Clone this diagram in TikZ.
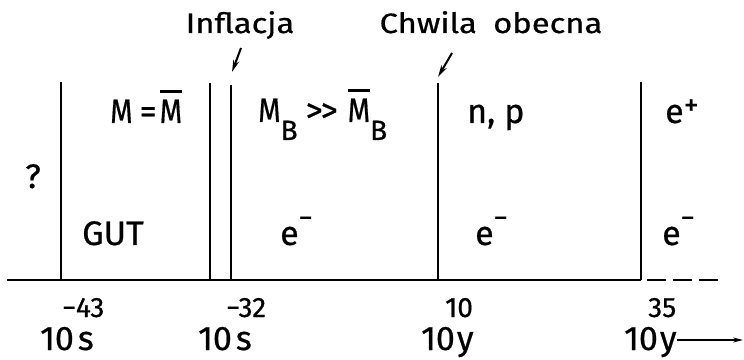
\documentclass[tikz,border=0pt]{standalone}
\usepackage{fontspec}
\setmainfont{Fira Sans}[FakeBold=0.6]
\usetikzlibrary{arrows.meta}
\newcommand\fs[1]{\fontsize{#1}{#1}\selectfont}
\newcommand\barM[1]{\setbox0\hbox{#1}\rlap{\hbox to\wd0{\hss\raisebox{\dimexpr\ht0+0.3\ht0\relax}{\rule{0.95\wd0}{0.07em}}\hss}}\box0}
\newcommand\emin{\raisebox{18pt}{\fs{28}−}}
\begin{document}
\begin{tikzpicture}[x=1pt,y=1pt,
  ln/.style={line width=1.7pt},
  ax/.style={line width=2.3pt},
  lbl/.style={anchor=base west, inner sep=0pt, font=\fs{34}},
  toplbl/.style={anchor=base, inner sep=0pt, font=\fs{28}},
  sup/.style={anchor=base west, inner sep=0pt, font=\fs{28}},
  pointer/.style={line width=2pt, -{Stealth[length=12pt,width=6pt]}}]
\useasboundingbox (0,0) rectangle (744,359);
% axis and boundaries
\coordinate (a0) at (7,79);
\coordinate (a1) at (61,79);  \coordinate (t1) at (61,277);
\coordinate (a2) at (210,79); \coordinate (t2) at (210,276);
\coordinate (a3) at (231,79); \coordinate (t3) at (231,274);
\coordinate (a4) at (438,79); \coordinate (t4) at (438,276);
\coordinate (a5) at (641,79); \coordinate (t5) at (641,277);
\coordinate (d0) at (647,79); \coordinate (d1) at (723,79);
\draw[ax] (a0) -- (a5);
\draw[ax, dash pattern=on 19pt off 7pt] (d0) -- (d1);
\foreach \i in {1,...,5} {\draw[ln] (a\i) -- (t\i);}
% top labels and pointers
\node[toplbl] (infl) at (240,326) {\scalebox{1.17}[1]{Inflacja}};
\node[toplbl] (chw) at (491,326) {\scalebox{1.17}[1]{Chwila\hspace{14pt}obecna}};
\coordinate (pi0) at (241,311); \coordinate (pi1) at (232,287);
\coordinate (pc0) at (452,306); \coordinate (pc1) at (438,282);
\draw[pointer] (pi0) -- (pi1);
\draw[pointer] (pc0) -- (pc1);
% region labels
\node[lbl] (meq) at (110,236) {\scalebox{0.85}[1]{M}\hspace{7pt}=\hspace{3pt}\barM{\scalebox{0.85}[1]{M}}};
\node[lbl] (mb) at (258,237) {\scalebox{0.85}[1]{M}\raisebox{-18pt}{\fs{28}B}\hspace{8pt}>\kern-2pt>\hspace{10pt}\barM{\scalebox{0.85}[1]{M}}\raisebox{-18pt}{\fs{28}B}};
\node[lbl] (np) at (467,236) {n, p};
\node[lbl] (ep) at (665,236) {e\raisebox{8pt}{\fs{30}+}};
\node[lbl] (qm) at (25,171) {?};
\node[lbl] (gut) at (82,114) {GUT};
\node[lbl] (e1) at (280,114) {e\emin};
\node[lbl] (e2) at (475,114) {e\emin};
\node[lbl] (e3) at (662,114) {e\emin};
% time labels
\node[lbl] (t43) at (40,9) {10\kern4pt s};
\node[sup] (s43) at (62,42) {−43};
\node[lbl] (t32) at (198,9) {10\kern4pt s};
\node[sup] (s32) at (226,42) {−32};
\node[lbl] (t10) at (421,9) {10\kern2pt y};
\node[sup] (s10) at (445,42) {10};
\node[lbl] (t35) at (624,9) {10\kern2pt y};
\node[sup] (s35) at (648,42) {35};
\coordinate (b0) at (677,19); \coordinate (b1) at (743,19);
\draw[line width=1.3pt, -{Stealth[length=10pt,width=5pt]}] (b0) -- (b1);
\end{tikzpicture}
\end{document}
